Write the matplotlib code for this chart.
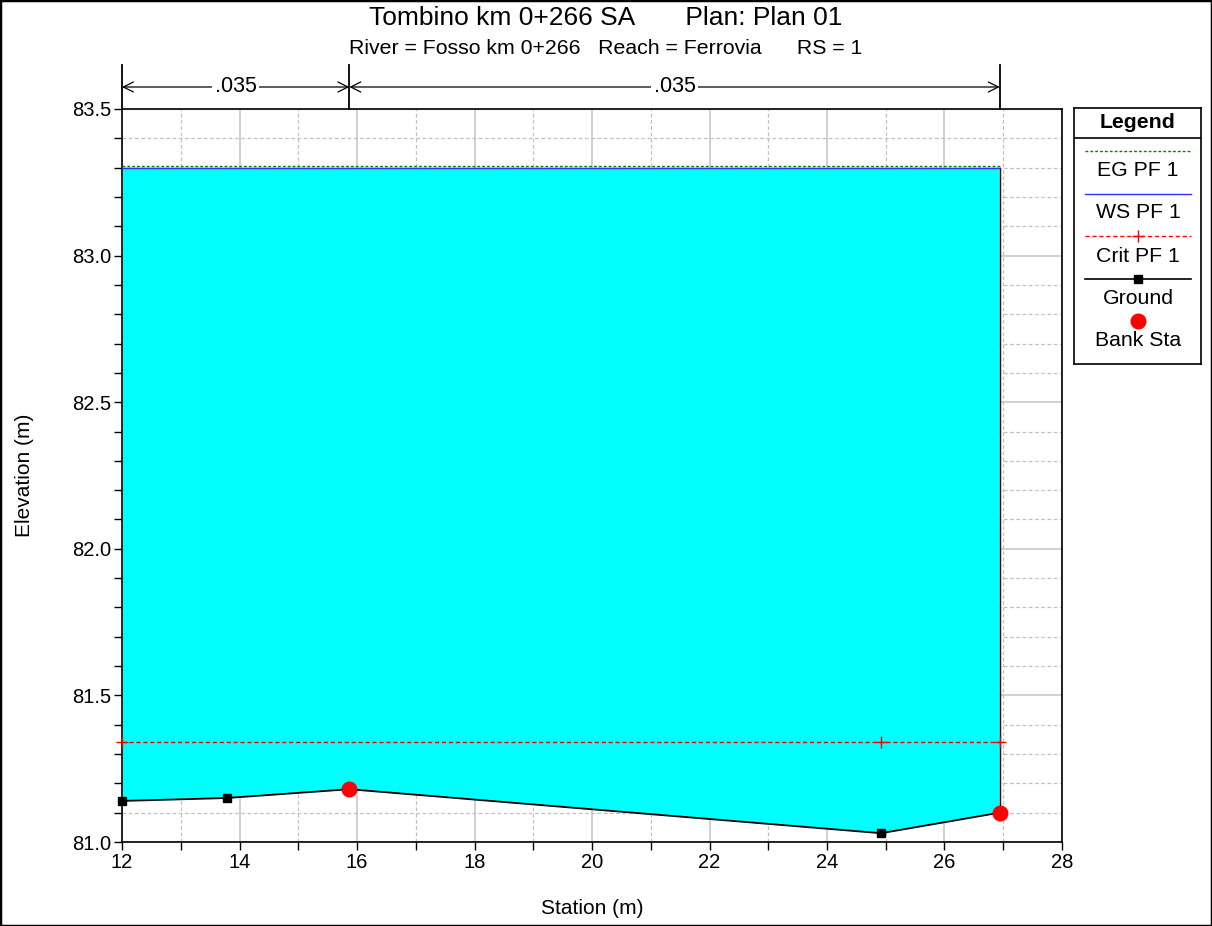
import matplotlib
matplotlib.use("Agg")
import matplotlib.pyplot as plt
from matplotlib.patches import Rectangle
from matplotlib.ticker import MultipleLocator, FormatStrFormatter

plt.rcParams['font.family'] = ['Liberation Sans', 'DejaVu Sans']

# ---- data ----
ground_sta = [12.0, 13.78, 15.87, 24.92, 26.94]
ground_elev = [81.14, 81.15, 81.18, 81.03, 81.10]
bank_sta = [15.87, 26.94]
bank_elev = [81.18, 81.10]
ws_elev = 83.30
eg_elev = 83.305
crit_sta = [12.0, 24.92, 26.94]
crit_elev = [81.34, 81.34, 81.34]
mann_bounds = [12.0, 15.87, 26.94]
mann_n = ['.035', '.035']
title = "Tombino km 0+266 SA       Plan: Plan 01"
subtitle = "River = Fosso km 0+266   Reach = Ferrovia      RS = 1"
legend_labels = ["EG PF 1", "WS PF 1", "Crit PF 1", "Ground", "Bank Sta"]

W, H = 1212, 926
fig = plt.figure(figsize=(W / 100, H / 100), dpi=100)
ax = fig.add_axes([122 / W, 1 - 842 / H, (1062 - 122) / W, (842 - 109) / H])

ax.set_xlim(12, 28)
ax.set_ylim(81.0, 83.5)
ax.set_axisbelow(True)

# water
ax.fill_between(ground_sta, ground_elev, [ws_elev] * len(ground_sta),
                facecolor=(0, 1, 1), edgecolor='none', zorder=1)
ax.plot([ground_sta[-1], ground_sta[-1]], [ground_elev[-1], ws_elev], color='black', lw=1, zorder=2)
ax.plot([ground_sta[0], ground_sta[-1]], [ws_elev, ws_elev], color='#3030ff', lw=1, zorder=3)
ax.plot([ground_sta[0], ground_sta[-1]], [eg_elev, eg_elev], color='#008000', lw=1,
        ls=(0, (2, 1.5)), zorder=3)
# crit
ax.plot(crit_sta, crit_elev, color='red', lw=1, ls=(0, (3, 2)), marker='+', markersize=8,
        markeredgewidth=1, zorder=4, clip_on=False)
# ground
ax.plot(ground_sta, ground_elev, color='black', lw=1.3, marker='s', markersize=6, zorder=5,
        clip_on=False)
ax.plot(bank_sta, bank_elev, ls='none', marker='o', color='red', markersize=10.5, zorder=6,
        clip_on=False)

# grid / ticks
ax.xaxis.set_major_locator(MultipleLocator(2))
ax.xaxis.set_minor_locator(MultipleLocator(1))
ax.yaxis.set_major_locator(MultipleLocator(0.5))
ax.yaxis.set_minor_locator(MultipleLocator(0.1))
ax.yaxis.set_major_formatter(FormatStrFormatter('%.1f'))
ax.grid(which='major', color='#c8c8c8', lw=1.2, ls='-')
ax.grid(which='minor', color='#c0c0c0', lw=0.9, ls=(0, (3, 2)))
ax.tick_params(which='both', direction='out', length=6, width=1, labelsize=14.5,
               top=False, right=False, pad=2)
for s in ax.spines.values():
    s.set_linewidth(1.2)

fig.text(592 / W, 1 - 908 / H, "Station (m)", ha='center', va='center', fontsize=15)
fig.text(25 / W, 1 - 475 / H, "Elevation (m)", ha='center', va='center', fontsize=15,
         rotation=90)

# Manning's n annotations
px_per_m = (842 - 109) / 2.5
top_line = 83.5 + (109 - 65) / px_per_m
arrow_y = 83.5 + (109 - 87) / px_per_m
for b in mann_bounds:
    ax.plot([b, b], [83.5, top_line], color='black', lw=1.3, clip_on=False)
for i, n in enumerate(mann_n):
    x0, x1 = mann_bounds[i], mann_bounds[i + 1]
    for xe in (x0, x1):
        ax.annotate('', xy=(xe, arrow_y), xytext=((x0 + x1) / 2, arrow_y),
                    arrowprops=dict(arrowstyle='->', color='black', lw=0.9,
                                    shrinkA=0, shrinkB=0, mutation_scale=18),
                    annotation_clip=False)
    ax.text((x0 + x1) / 2, arrow_y, n, ha='center', va='center', fontsize=15.5,
            bbox=dict(facecolor='white', edgecolor='none', pad=2), clip_on=False, zorder=10)

# titles
fig.text(0.5, 1 - 18 / H, title, ha='center', va='center', fontsize=19)
fig.text(0.5, 1 - 48 / H, subtitle, ha='center', va='center', fontsize=15.3)

# legend box
lx0, lx1, ly0, ly1 = 1074, 1201, 108, 364
lax = fig.add_axes([lx0 / W, 1 - ly1 / H, (lx1 - lx0) / W, (ly1 - ly0) / H])
lax.set_xlim(lx0, lx1)
lax.set_ylim(ly1, ly0)
lax.set_xticks([])
lax.set_yticks([])
for s in lax.spines.values():
    s.set_linewidth(1.2)
lax.text((lx0 + lx1) / 2, 122, "Legend", ha='center', va='center', fontsize=15.3,
         fontweight='bold')
lax.plot([lx0, lx1], [138, 138], color='black', lw=1.2)
xa, xb = 1085, 1191
xm = (xa + xb) / 2
line_y = [151, 194, 236, 279, 321]
text_y = [170, 213, 256, 298, 341]
lax.plot([xa, xb], [line_y[0]] * 2, color='#008000', lw=1, ls=(0, (2, 1.5)))
lax.plot([xa, xb], [line_y[1]] * 2, color='#3030ff', lw=1)
lax.plot([xa, xb], [line_y[2]] * 2, color='red', lw=1, ls=(0, (3, 2)))
lax.plot([xm], [line_y[2]], color='red', marker='+', markersize=8)
lax.plot([xa, xb], [line_y[3]] * 2, color='black', lw=1.2)
lax.plot([xm], [line_y[3]], color='black', marker='s', markersize=6)
lax.plot([xm], [line_y[4]], color='red', marker='o', markersize=10.5)
for ty, lab in zip(text_y, legend_labels):
    lax.text(xm, ty, lab, ha='center', va='center', fontsize=15.3)

# figure border
fig.patches.append(Rectangle((0, 0), 1, 1, transform=fig.transFigure, fill=False,
                             edgecolor='black', lw=2.5))

fig.savefig("out.png", dpi=100)
